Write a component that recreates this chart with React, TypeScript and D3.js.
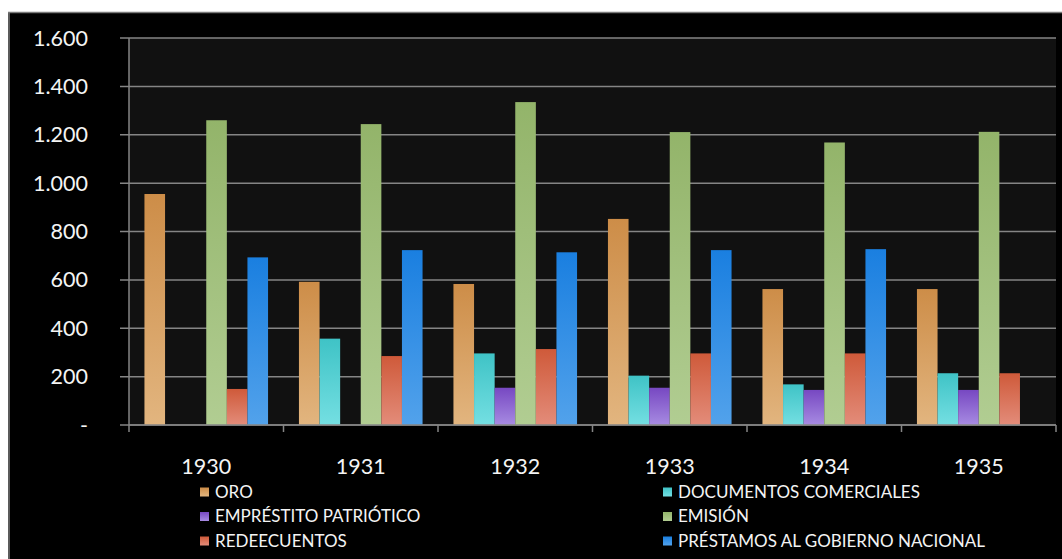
import React from "react";
import * as d3 from "d3";

const years = ["1930", "1931", "1932", "1933", "1934", "1935"];
const seriesNames = [
  "ORO",
  "DOCUMENTOS COMERCIALES",
  "EMPRÉSTITO PATRIÓTICO",
  "EMISIÓN",
  "REDEECUENTOS",
  "PRÉSTAMOS AL GOBIERNO NACIONAL",
];
const oro = [955, 592, 583, 852, 562, 562];
const documentos = [0, 357, 296, 204, 168, 214];
const emprestito = [0, 0, 154, 154, 145, 145];
const emision = [1260, 1244, 1335, 1211, 1168, 1212];
const redescuentos = [149, 285, 314, 296, 296, 214];
const prestamos = [693, 723, 714, 723, 727, 0];
const yTicks = [0, 200, 400, 600, 800, 1000, 1200, 1400, 1600];
const yTickLabels = ["-", "200", "400", "600", "800", "1.000", "1.200", "1.400", "1.600"];

const seriesValues = [oro, documentos, emprestito, emision, redescuentos, prestamos];
const topColors = ["#cd8d48", "#3fc3c6", "#7748c2", "#93b46a", "#cf5a3a", "#1a7fe0"];
const bottomColors = ["#e2b57f", "#74dfe2", "#a78be2", "#b1cd92", "#e38c7a", "#52a2eb"];

const W = 1062;
const H = 559;
const left = 129;
const right = 1056;
const top = 38;
const bottom = 425;

export default function App() {
  const x = d3.scaleBand<string>().domain(years).range([left, right]).paddingInner(0).paddingOuter(0);
  const y = d3.scaleLinear().domain([0, 1600]).range([bottom, top]);
  const bw = x.bandwidth() / 7.5;
  const font = "Lato, 'Open Sans', sans-serif";

  return (
    <div style={{ position: "absolute", left: 0, top: 0 }}>
      <svg width={W} height={H} style={{ display: "block" }}>
        <defs>
          {topColors.map((c, i) => (
            <linearGradient key={i} id={`g${i}`} x1="0" y1="0" x2="0" y2="1">
              <stop offset="0" stopColor={c} />
              <stop offset="1" stopColor={bottomColors[i]} />
            </linearGradient>
          ))}
        </defs>
        <rect x={0} y={0} width={W} height={H} fill="#ffffff" />
        <rect x={8} y={12} width={W - 8} height={H - 12} fill="#000000" />
        <line x1={8} y1={12.5} x2={W} y2={12.5} stroke="#7a7a7a" strokeWidth={1.5} />
        <line x1={9} y1={12} x2={9} y2={H} stroke="#7a7a7a" strokeWidth={1.5} />
        <rect x={left} y={top} width={right - left} height={bottom - top} fill="#111111" />
        {yTicks.map((t, i) => (
          <g key={t}>
            <line x1={left - 9} x2={right} y1={y(t)} y2={y(t)} stroke="#858585" strokeWidth={1.5} />
            <text
              x={88}
              y={y(t)}
              dy="0.35em"
              textAnchor="end"
              fill="#f4f4f4"
              fontFamily={font}
              fontSize={21.5}
            >
              {yTickLabels[i]}
            </text>
          </g>
        ))}
        <line x1={left} x2={left} y1={top} y2={bottom + 7} stroke="#858585" strokeWidth={1.5} />
        {years.map((yr, i) => (
          <g key={yr}>
            <line
              x1={(x(yr) as number) + x.bandwidth()}
              x2={(x(yr) as number) + x.bandwidth()}
              y1={bottom}
              y2={bottom + 7}
              stroke="#858585"
              strokeWidth={1.5}
            />
            <text
              x={(x(yr) as number) + x.bandwidth() / 2}
              y={466}
              dy="0.35em"
              textAnchor="middle"
              fill="#f4f4f4"
              fontFamily={font}
              fontSize={21.5}
            >
              {yr}
            </text>
            {seriesValues.map((vals, s) => {
              const v = vals[i];
              if (!v) return null;
              const bx = (x(yr) as number) + bw * 0.75 + s * bw;
              return (
                <rect
                  key={s}
                  x={bx}
                  y={y(v)}
                  width={bw}
                  height={bottom - y(v)}
                  fill={`url(#g${s})`}
                />
              );
            })}
          </g>
        ))}
        <line x1={left} x2={right} y1={bottom} y2={bottom} stroke="#858585" strokeWidth={1.5} />
        {seriesNames.map((name, i) => {
          const col = i % 2;
          const row = Math.floor(i / 2);
          const sx = col === 0 ? 200 : 663;
          const sy = 492 + row * 24.5;
          return (
            <g key={name}>
              <rect x={sx} y={sy - 4.5} width={9} height={9} fill={`url(#g${i})`} />
              <text
                x={sx + 15}
                y={sy}
                dy="0.35em"
                fill="#f4f4f4"
                fontFamily={font}
                fontSize={17}
              >
                {name}
              </text>
            </g>
          );
        })}
      </svg>
    </div>
  );
}
